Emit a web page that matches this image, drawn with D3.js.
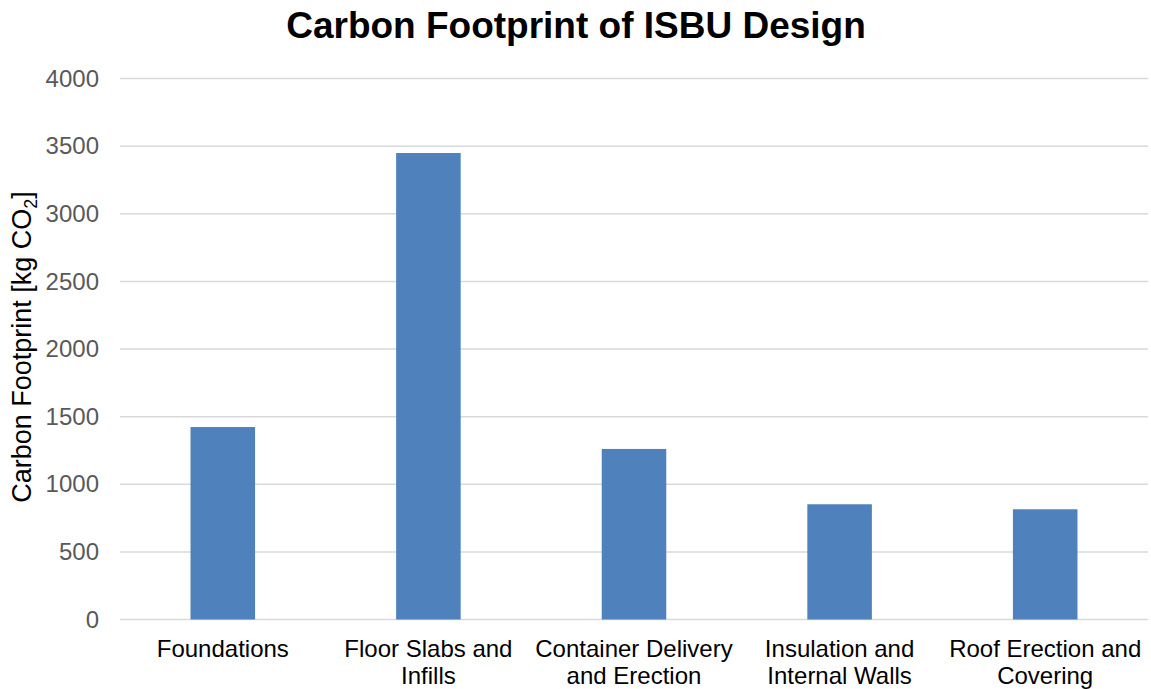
<!DOCTYPE html>
<html>
<head>
<meta charset="utf-8">
<script src="https://cdn.jsdelivr.net/npm/d3@7"></script>
<style>
  html, body { margin: 0; padding: 0; background: #ffffff; }
  svg { display: block; font-family: "Liberation Sans", Arial, sans-serif; }
</style>
</head>
<body>
<svg id="chart" width="1151" height="689"></svg>
<script>
// Embodied carbon per construction stage of the ISBU (shipping container) build
const categories = [
  ["Foundations"],
  ["Floor Slabs and", "Infills"],
  ["Container Delivery", "and Erection"],
  ["Insulation and", "Internal Walls"],
  ["Roof Erection and", "Covering"]
];
const values = [1423, 3449, 1261, 852, 815];
const yTicks = [0, 500, 1000, 1500, 2000, 2500, 3000, 3500, 4000];

const svg = d3.select("#chart");
const W = 1151, H = 689;
const margin = { top: 78.5, right: 3, bottom: 69.5, left: 120 };

const x = d3.scaleBand()
  .domain(categories.map((d, i) => i))
  .range([margin.left, W - margin.right])
  .paddingInner(0.686)
  .paddingOuter(0.343);

const y = d3.scaleLinear()
  .domain([0, 4000])
  .range([H - margin.bottom, margin.top]);

// horizontal gridlines
svg.append("g")
  .selectAll("line")
  .data(yTicks)
  .join("line")
  .attr("x1", margin.left)
  .attr("x2", W - margin.right)
  .attr("y1", d => y(d))
  .attr("y2", d => y(d))
  .attr("stroke", "#d9d9d9")
  .attr("stroke-width", 1.5);

// y axis tick labels
const yAxis = d3.axisLeft(y)
  .tickValues(yTicks)
  .tickFormat(d3.format("d"))
  .tickSize(0)
  .tickPadding(21);
const gy = svg.append("g")
  .attr("transform", `translate(${margin.left},0)`)
  .call(yAxis);
gy.select(".domain").remove();
gy.selectAll("text")
  .attr("fill", "#595959")
  .style("font-size", "24px")
  .style("font-family", "Liberation Sans, Arial, sans-serif");

// bars
svg.append("g")
  .selectAll("rect")
  .data(values)
  .join("rect")
  .attr("x", (d, i) => x(i))
  .attr("width", x.bandwidth())
  .attr("y", d => y(d))
  .attr("height", d => y(0) - y(d))
  .attr("fill", "#4f81bd");

// category labels (two lines where the label wraps)
const xl = svg.append("g")
  .selectAll("text")
  .data(categories)
  .join("text")
  .attr("text-anchor", "middle")
  .attr("fill", "#000000")
  .style("font-size", "24px")
  .attr("x", (d, i) => x(i) + x.bandwidth() / 2)
  .attr("y", 657);
xl.selectAll("tspan")
  .data(d => d)
  .join("tspan")
  .attr("x", function () { return d3.select(this.parentNode).attr("x"); })
  .attr("dy", (d, i) => i === 0 ? 0 : 27)
  .text(d => d);

// chart title
svg.append("text")
  .attr("x", 576)
  .attr("y", 38)
  .attr("text-anchor", "middle")
  .style("font-size", "37px")
  .style("font-weight", "bold")
  .attr("fill", "#000000")
  .text("Carbon Footprint of ISBU Design");

// y axis title with subscript
const yt = svg.append("text")
  .attr("transform", "translate(31,347) rotate(-90)")
  .attr("text-anchor", "middle")
  .style("font-size", "27px")
  .attr("fill", "#000000");
yt.append("tspan").text("Carbon Footprint [kg CO");
yt.append("tspan").attr("dy", 6).style("font-size", "18px").text("2");
yt.append("tspan").attr("dy", -6).text("]");
</script>
</body>
</html>
